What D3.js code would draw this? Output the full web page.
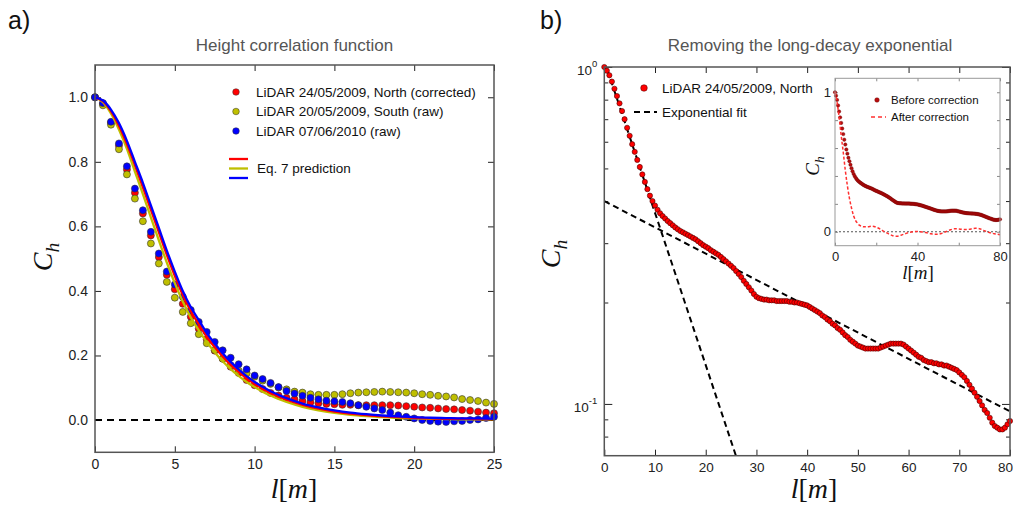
<!DOCTYPE html>
<html><head><meta charset="utf-8">
<script src="https://cdn.jsdelivr.net/npm/d3@7"></script>
<style>html,body{margin:0;padding:0;background:#fff}svg{display:block}</style>
</head><body>
<svg id="c" width="1013" height="505"></svg>
<script>
// ---------------- Panel a data ----------------
const lagStepA = 0.5;
const northCorrected = [
  1.0, 0.98, 0.921, 0.85, 0.776, 0.704, 0.64, 0.572, 0.505, 0.45,
  0.405, 0.36, 0.32, 0.283, 0.25, 0.215, 0.19, 0.165, 0.146, 0.124,
  0.108, 0.096, 0.084, 0.076, 0.069, 0.064, 0.059, 0.055, 0.052, 0.05,
  0.049, 0.047, 0.047, 0.046, 0.046, 0.046, 0.046, 0.046, 0.045, 0.043,
  0.041, 0.039, 0.038, 0.036, 0.034, 0.033, 0.031, 0.029, 0.026, 0.023,
  0.021];
const southRaw = [
  1.0, 0.975, 0.915, 0.839, 0.761, 0.686, 0.616, 0.547, 0.485, 0.428,
  0.379, 0.335, 0.30, 0.266, 0.238, 0.217, 0.19, 0.17, 0.153, 0.145,
  0.134, 0.122, 0.112, 0.101, 0.095, 0.088, 0.085, 0.08, 0.078, 0.078,
  0.078, 0.08, 0.083, 0.085, 0.086, 0.087, 0.088, 0.087, 0.086, 0.085,
  0.083, 0.08, 0.078, 0.075, 0.073, 0.07, 0.065, 0.062, 0.059, 0.054,
  0.05];
const raw2010 = [
  1.0, 0.982, 0.924, 0.857, 0.786, 0.717, 0.65, 0.583, 0.516, 0.46,
  0.42, 0.382, 0.341, 0.304, 0.273, 0.242, 0.216, 0.193, 0.173, 0.157,
  0.138, 0.127, 0.115, 0.102, 0.09, 0.082, 0.075, 0.069, 0.064, 0.06,
  0.058, 0.056, 0.052, 0.046, 0.041, 0.036, 0.031, 0.023, 0.015, 0.01,
  0.005, 0.0, -0.003, -0.005, -0.006, -0.004, -0.003, 0.0, 0.002, 0.006,
  0.01];
const eqLag = [0,0.5,1,1.5,2,2.5,3,3.5,4,4.5,5,5.5,6,6.5,7,7.5,8,8.5,9,9.5,10,10.5,11,11.5,12,13,14,15,16,17,18,19,20,21,22,23,24,25];
const eqNorth = [1.0,0.988,0.957,0.912,0.855,0.79,0.722,0.652,0.582,0.512,0.447,0.388,0.338,0.297,0.258,0.226,0.197,0.171,0.149,0.129,0.112,0.097,0.084,0.073,0.063,0.047,0.035,0.026,0.02,0.015,0.011,0.009,0.007,0.005,0.004,0.004,0.003,0.003];
const eqSouth = [1.0,0.985,0.95,0.9,0.84,0.77,0.70,0.628,0.557,0.488,0.424,0.367,0.318,0.278,0.242,0.21,0.182,0.158,0.137,0.118,0.102,0.088,0.076,0.065,0.056,0.041,0.03,0.022,0.016,0.012,0.009,0.006,0.005,0.004,0.003,0.002,0.002,0.002];
const eq2010 = [1.0,0.99,0.962,0.92,0.865,0.80,0.735,0.665,0.595,0.525,0.46,0.40,0.35,0.31,0.27,0.237,0.207,0.18,0.157,0.136,0.118,0.103,0.089,0.078,0.068,0.051,0.039,0.03,0.023,0.018,0.014,0.011,0.009,0.007,0.006,0.005,0.005,0.004];
const aXTicks = [0,5,10,15,20,25];
const aYTicks = [0.0,0.2,0.4,0.6,0.8,1.0];
const legendA = ["LiDAR 24/05/2009, North (corrected)","LiDAR 20/05/2009, South (raw)","LiDAR 07/06/2010 (raw)"];

// ---------------- Panel b data ----------------
const lagStepB = 0.5;
const northRawB = [
  1.0, 0.975, 0.945, 0.905, 0.862, 0.82, 0.78, 0.74, 0.70, 0.66,
  0.625, 0.59, 0.56, 0.53, 0.505, 0.48, 0.456, 0.434, 0.415, 0.40,
  0.388, 0.377, 0.368, 0.361, 0.355, 0.349, 0.344, 0.339, 0.334, 0.33,
  0.326, 0.323, 0.32, 0.317, 0.314, 0.311, 0.308, 0.304, 0.30, 0.296,
  0.293, 0.29, 0.286, 0.283, 0.28, 0.277, 0.273, 0.269, 0.265, 0.261,
  0.257, 0.253, 0.248, 0.243, 0.238, 0.232, 0.227, 0.222, 0.217, 0.212,
  0.208, 0.206, 0.205, 0.204, 0.204, 0.203, 0.203, 0.203, 0.202, 0.202,
  0.202, 0.202, 0.202, 0.201, 0.201, 0.20, 0.20, 0.199, 0.198, 0.197,
  0.196, 0.194, 0.192, 0.19, 0.188, 0.186, 0.183, 0.181, 0.178, 0.176,
  0.173, 0.171, 0.168, 0.166, 0.163, 0.16, 0.158, 0.155, 0.153, 0.151,
  0.149, 0.148, 0.147, 0.146, 0.146, 0.146, 0.146, 0.146, 0.146, 0.147,
  0.148, 0.149, 0.15, 0.151, 0.151, 0.151, 0.151, 0.151, 0.15, 0.148,
  0.146, 0.144, 0.142, 0.14, 0.138, 0.137, 0.135, 0.134, 0.133, 0.133,
  0.132, 0.132, 0.131, 0.131, 0.13, 0.13, 0.129, 0.128, 0.127, 0.126,
  0.124, 0.122, 0.12, 0.117, 0.114, 0.111, 0.108, 0.105, 0.102, 0.099,
  0.096, 0.094, 0.091, 0.088, 0.086, 0.085, 0.084, 0.084, 0.085, 0.087,
  0.089];
const shortFitLag = [0, 26.5];
const shortFitVal = [1.045, 0.0663];
const longFitLag = [0, 80];
const longFitVal = [0.40, 0.095];
const bXTicks = [0,10,20,30,40,50,60,70,80];
const bYMajor = [0.1, 1];
const bYMajorExp = ["-1", "0"];
const bYMinor = [0.08,0.09,0.2,0.3,0.4,0.5,0.6,0.7,0.8,0.9];
const legendB = ["LiDAR 24/05/2009, North", "Exponential fit"];

// inset
const afterLag = [0,1,2,3,4,5,6,7,8,9,10,11,12,14,16,18,20,22,24,26,28,30,32,34,36,38,40,42,44,46,48,50,52,54,56,58,60,62,64,66,68,70,72,74,76,78,80];
const afterVal = [1.0,0.93,0.82,0.69,0.57,0.44,0.33,0.24,0.17,0.115,0.08,0.06,0.045,
  0.035,0.036,0.04,0.032,0.018,0.0,-0.015,-0.028,-0.032,-0.025,
  -0.014,-0.005,0.0,0.002,-0.001,-0.006,-0.012,-0.018,-0.018,-0.01,
  0.002,0.014,0.021,0.02,0.017,0.016,0.02,0.025,0.022,0.01,
  -0.002,-0.01,-0.016,-0.022];
const insetXTicks = [0,20,40,60,80];
const insetXLabels = [0,40,80];
const insetYTicks = [0,0.2,0.4,0.6,0.8,1.0];
const insetYLabels = [0,1];
const legendInset = ["Before correction","After correction"];

// ---------------- drawing ----------------
const sans = "'Liberation Sans', Arial, Helvetica, sans-serif";
const serif = "'Liberation Serif', 'Times New Roman', serif";
const svg = d3.select("#c");

function styleAxis(g, size) {
  g.attr("font-family", sans).attr("font-size", size);
  g.select(".domain").remove();
  g.selectAll(".tick line").attr("stroke", "#222").attr("stroke-width", 1);
  g.selectAll(".tick text").attr("fill", "#222");
  return g;
}
function mathL(g, x, y, size) {
  const t = g.append("text").attr("x", x).attr("y", y).attr("text-anchor", "middle")
    .attr("font-family", serif).attr("font-size", size).attr("fill", "#111");
  t.append("tspan").attr("font-style", "italic").text("l");
  t.append("tspan").text("[");
  t.append("tspan").attr("font-style", "italic").text("m");
  t.append("tspan").text("]");
}
function mathC(g, x, y, size) {
  const t = g.append("text").attr("transform", `translate(${x},${y}) rotate(-90)`)
    .attr("text-anchor", "middle").attr("font-family", serif).attr("font-size", size).attr("fill", "#111");
  t.append("tspan").attr("font-style", "italic").text("C");
  t.append("tspan").attr("font-style", "italic").attr("font-size", size * 0.7).attr("dy", size * 0.25).text("h");
}

// ====== Panel a ======
const A = {x0: 95, x1: 494, y0: 65, y1: 452.3};
const xA = d3.scaleLinear().domain([0, 25]).range([A.x0, A.x1]);
const yA = d3.scaleLinear().domain([-0.1, 1.1]).range([A.y1, A.y0]);
const gA = svg.append("g");

svg.append("text").attr("x", 8).attr("y", 29).attr("font-family", sans).attr("font-size", 25).attr("fill", "#111").text("a)");
svg.append("text").attr("x", (A.x0 + A.x1) / 2).attr("y", 51).attr("text-anchor", "middle")
  .attr("font-family", sans).attr("font-size", 17).attr("fill", "#555").text("Height correlation function");

styleAxis(gA.append("g").attr("transform", `translate(0,${A.y1})`)
  .call(d3.axisBottom(xA).tickValues(aXTicks).tickSizeInner(-6).tickSizeOuter(0).tickPadding(7).tickFormat(d3.format("d"))), 14);
styleAxis(gA.append("g").attr("transform", `translate(0,${A.y0})`)
  .call(d3.axisTop(xA).tickValues(aXTicks).tickSizeInner(-6).tickSizeOuter(0).tickFormat("")), 14);
styleAxis(gA.append("g").attr("transform", `translate(${A.x0},0)`)
  .call(d3.axisLeft(yA).tickValues(aYTicks).tickSizeInner(-6).tickSizeOuter(0).tickPadding(7).tickFormat(d3.format(".1f"))), 14);
styleAxis(gA.append("g").attr("transform", `translate(${A.x1},0)`)
  .call(d3.axisRight(yA).tickValues(aYTicks).tickSizeInner(-6).tickSizeOuter(0).tickFormat("")), 14);

// zero line
gA.append("line").attr("x1", A.x0).attr("x2", A.x1).attr("y1", yA(0)).attr("y2", yA(0))
  .attr("stroke", "#000").attr("stroke-width", 2).attr("stroke-dasharray", "7,5");

const seriesA = [
  {vals: northCorrected, color: "#ff0000"},
  {vals: southRaw, color: "#bfbf00"},
  {vals: raw2010, color: "#0000ff"}
];
seriesA.forEach(s => {
  gA.append("g").selectAll("circle").data(s.vals).join("circle")
    .attr("cx", (d, i) => xA(i * lagStepA)).attr("cy", d => yA(d)).attr("r", 3.5)
    .attr("fill", s.color).attr("stroke", "#333").attr("stroke-width", 0.6);
});
const lineA = d3.line().x((d, i) => xA(eqLag[i])).y(d => yA(d)).curve(d3.curveMonotoneX);
[{v: eqSouth, c: "#bfbf00"}, {v: eqNorth, c: "#ff0000"}, {v: eq2010, c: "#0000ff"}].forEach(s => {
  gA.append("path").attr("d", lineA(s.v)).attr("fill", "none").attr("stroke", s.c).attr("stroke-width", 2.3);
});

gA.append("rect").attr("x", A.x0).attr("y", A.y0).attr("width", A.x1 - A.x0).attr("height", A.y1 - A.y0)
  .attr("fill", "none").attr("stroke", "#555").attr("stroke-width", 1.5);

// legend a
const legA = gA.append("g").attr("font-family", sans).attr("font-size", 13.5).attr("fill", "#111");
seriesA.forEach((s, i) => {
  const y = 92 + i * 19.5;
  legA.append("circle").attr("cx", 236).attr("cy", y).attr("r", 3.3).attr("fill", s.color).attr("stroke", "#333").attr("stroke-width", 0.5);
  legA.append("text").attr("x", 256).attr("y", y).attr("dy", "0.35em").text(legendA[i]);
});
["#ff0000", "#bfbf00", "#0000ff"].forEach((c, i) => {
  legA.append("line").attr("x1", 229).attr("x2", 248).attr("y1", 159 + i * 9.5).attr("y2", 159 + i * 9.5)
    .attr("stroke", c).attr("stroke-width", 2.3);
});
legA.append("text").attr("x", 257).attr("y", 168.5).attr("dy", "0.35em").text("Eq. 7 prediction");

mathL(gA, 294, 498, 28);
mathC(gA, 52, 257, 28);

// ====== Panel b ======
const B = {x0: 604.3, x1: 1010, y0: 67, y1: 455.7};
const xB = d3.scaleLinear().domain([0, 80]).range([B.x0, B.x1]);
const yB = d3.scaleLog().domain([0.0702, 1]).range([B.y1, B.y0]);
const gB = svg.append("g");

svg.append("text").attr("x", 540).attr("y", 29).attr("font-family", sans).attr("font-size", 25).attr("fill", "#111").text("b)");
svg.append("text").attr("x", 810).attr("y", 51).attr("text-anchor", "middle")
  .attr("font-family", sans).attr("font-size", 17).attr("fill", "#555").text("Removing the long-decay exponential");

const bBottom = styleAxis(gB.append("g").attr("transform", `translate(0,${B.y1})`)
  .call(d3.axisBottom(xB).tickValues(bXTicks).tickSizeInner(-6).tickSizeOuter(0).tickPadding(7).tickFormat(d3.format("d"))), 13.5);
// last label sits at the picture edge: anchor it at its end so it stays inside
bBottom.selectAll(".tick text").filter(d => d === bXTicks[bXTicks.length - 1])
  .attr("text-anchor", "end").attr("dx", 2.5);
styleAxis(gB.append("g").attr("transform", `translate(0,${B.y0})`)
  .call(d3.axisTop(xB).tickValues(bXTicks).tickSizeInner(-6).tickSizeOuter(0).tickFormat("")), 13);
[[d3.axisLeft, B.x0], [d3.axisRight, B.x1]].forEach(([ax, x]) => {
  styleAxis(gB.append("g").attr("transform", `translate(${x},0)`)
    .call(ax(yB).tickValues(bYMajor).tickSizeInner(-8).tickSizeOuter(0).tickFormat("")), 13);
  styleAxis(gB.append("g").attr("transform", `translate(${x},0)`)
    .call(ax(yB).tickValues(bYMinor).tickSizeInner(-4).tickSizeOuter(0).tickFormat("")), 13);
});
bYMajor.forEach((v, i) => {
  const t = gB.append("text").attr("x", B.x0 - 7).attr("y", yB(v) + 8).attr("text-anchor", "end")
    .attr("font-family", sans).attr("font-size", 13.5).attr("fill", "#222");
  t.append("tspan").text("10");
  t.append("tspan").attr("font-size", 9.5).attr("dy", -8).text(bYMajorExp[i]);
});

svg.append("clipPath").attr("id", "clipB").append("rect")
  .attr("x", B.x0).attr("y", B.y0).attr("width", B.x1 - B.x0).attr("height", B.y1 - B.y0);
const fitLine = (L, V) => d3.line().x((d, i) => xB(L[i])).y(d => yB(d))(V);
gB.append("path").attr("d", fitLine(shortFitLag, shortFitVal)).attr("clip-path", "url(#clipB)")
  .attr("fill", "none").attr("stroke", "#000").attr("stroke-width", 2).attr("stroke-dasharray", "6,4");
gB.append("path").attr("d", fitLine(longFitLag, longFitVal)).attr("clip-path", "url(#clipB)")
  .attr("fill", "none").attr("stroke", "#000").attr("stroke-width", 2).attr("stroke-dasharray", "6,4");

gB.append("g").selectAll("circle").data(northRawB).join("circle")
  .attr("cx", (d, i) => xB(i * lagStepB)).attr("cy", d => yB(d)).attr("r", 2.6)
  .attr("fill", "#ff0000").attr("stroke", "#4a0000").attr("stroke-width", 0.6);

gB.append("rect").attr("x", B.x0).attr("y", B.y0).attr("width", B.x1 - B.x0).attr("height", B.y1 - B.y0)
  .attr("fill", "none").attr("stroke", "#555").attr("stroke-width", 1.5);

// legend b
const legB = gB.append("g").attr("font-family", sans).attr("font-size", 13.5).attr("fill", "#111");
legB.append("circle").attr("cx", 644).attr("cy", 88).attr("r", 3.3).attr("fill", "#ff0000").attr("stroke", "#4a0000").attr("stroke-width", 0.5);
legB.append("text").attr("x", 662).attr("y", 88).attr("dy", "0.35em").text(legendB[0]);
legB.append("line").attr("x1", 634).attr("x2", 657).attr("y1", 112).attr("y2", 112)
  .attr("stroke", "#000").attr("stroke-width", 2).attr("stroke-dasharray", "6,4");
legB.append("text").attr("x", 662).attr("y", 112).attr("dy", "0.35em").text(legendB[1]);

mathL(gB, 814, 498, 28);
mathC(gB, 560, 254, 28);

// ====== Inset ======
const I = {x0: 835, x1: 1000, y0: 78.3, y1: 245.7};
const xI = d3.scaleLinear().domain([0, 80]).range([I.x0, I.x1]);
const yI = d3.scaleLinear().domain([-0.1, 1.1]).range([I.y1, I.y0]);
const gI = svg.append("g");
gI.append("rect").attr("x", I.x0).attr("y", I.y0).attr("width", I.x1 - I.x0).attr("height", I.y1 - I.y0)
  .attr("fill", "#fff").attr("stroke", "none");

styleAxis(gI.append("g").attr("transform", `translate(0,${I.y1})`)
  .call(d3.axisBottom(xI).tickValues(insetXTicks).tickSizeInner(-3).tickSizeOuter(0).tickPadding(6)
    .tickFormat(d => insetXLabels.includes(d) ? d : "")), 13);
styleAxis(gI.append("g").attr("transform", `translate(0,${I.y0})`)
  .call(d3.axisTop(xI).tickValues(insetXTicks).tickSizeInner(-3).tickSizeOuter(0).tickFormat("")), 13);
styleAxis(gI.append("g").attr("transform", `translate(${I.x0},0)`)
  .call(d3.axisLeft(yI).tickValues(insetYTicks).tickSizeInner(-3).tickSizeOuter(0).tickPadding(4)
    .tickFormat(d => insetYLabels.includes(d) ? d : "")), 13);
styleAxis(gI.append("g").attr("transform", `translate(${I.x1},0)`)
  .call(d3.axisRight(yI).tickValues(insetYTicks).tickSizeInner(-3).tickSizeOuter(0).tickFormat("")), 13);
gI.selectAll(".tick line").attr("stroke", "#888");

gI.append("line").attr("x1", I.x0).attr("x2", I.x1).attr("y1", yI(0)).attr("y2", yI(0))
  .attr("stroke", "#555").attr("stroke-width", 1).attr("stroke-dasharray", "2,2");

gI.append("g").selectAll("circle").data(northRawB).join("circle")
  .attr("cx", (d, i) => xI(i * lagStepB)).attr("cy", d => yI(d)).attr("r", 1.7)
  .attr("fill", "#b80d0d").attr("stroke", "#6b0000").attr("stroke-width", 0.4);
gI.append("path").attr("d", d3.line().x((d, i) => xI(afterLag[i])).y(d => yI(d)).curve(d3.curveMonotoneX)(afterVal))
  .attr("fill", "none").attr("stroke", "#ff3030").attr("stroke-width", 1.5).attr("stroke-dasharray", "3,2");

gI.append("rect").attr("x", I.x0).attr("y", I.y0).attr("width", I.x1 - I.x0).attr("height", I.y1 - I.y0)
  .attr("fill", "none").attr("stroke", "#999").attr("stroke-width", 1);

const legI = gI.append("g").attr("font-family", sans).attr("font-size", 11.5).attr("fill", "#111");
legI.append("circle").attr("cx", 877).attr("cy", 100).attr("r", 2.3).attr("fill", "#b80d0d").attr("stroke", "#6b0000").attr("stroke-width", 0.4);
legI.append("text").attr("x", 891).attr("y", 100).attr("dy", "0.35em").text(legendInset[0]);
legI.append("line").attr("x1", 871).attr("x2", 886).attr("y1", 117).attr("y2", 117)
  .attr("stroke", "#ff3030").attr("stroke-width", 1.5).attr("stroke-dasharray", "4,3");
legI.append("text").attr("x", 891).attr("y", 117).attr("dy", "0.35em").text(legendInset[1]);

mathL(gI, 918, 279, 19);
mathC(gI, 819, 166, 19);
</script>
</body></html>
